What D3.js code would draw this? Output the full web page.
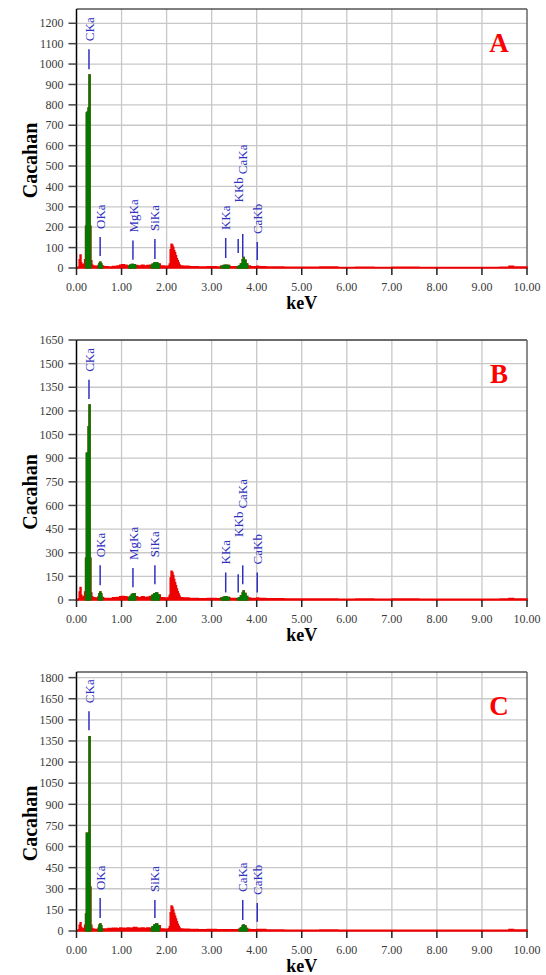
<!DOCTYPE html>
<html>
<head>
<meta charset="utf-8">
<script src="https://cdn.jsdelivr.net/npm/d3@7"></script>
<style>
  html, body { margin: 0; padding: 0; background: #fff; }
  svg { display: block; }
</style>
</head>
<body>
<script>
// EDS spectra, three samples (A, B, C).

// energy axis ticks (keV)
let kevTicks = [0, 1, 2, 3, 4, 5, 6, 7, 8, 9, 10];

// spectrum A: [keV, counts]
let specA = [
    [0.00, 0], [0.04, 5], [0.06, 40], [0.08, 64], [0.10, 25], [0.12, 15], [0.14, 12], [0.16, 18],
    [0.18, 40], [0.20, 205], [0.22, 760], [0.24, 765], [0.26, 784], [0.28, 946], [0.30, 205],
    [0.32, 35], [0.34, 15], [0.36, 10], [0.40, 8], [0.44, 8], [0.48, 12], [0.50, 22], [0.52, 28],
    [0.54, 20], [0.56, 10], [0.60, 6], [0.70, 5], [0.80, 7], [0.90, 10], [0.96, 14], [1.00, 16],
    [1.06, 14], [1.12, 10], [1.18, 14], [1.22, 17], [1.26, 16], [1.30, 12], [1.36, 10], [1.44, 14],
    [1.50, 10], [1.56, 12], [1.62, 14], [1.68, 18], [1.72, 24], [1.76, 26], [1.80, 20], [1.86, 10],
    [1.94, 8], [2.00, 8], [2.04, 10], [2.06, 20], [2.08, 90], [2.10, 116], [2.12, 112], [2.14, 100],
    [2.16, 85], [2.18, 75], [2.20, 60], [2.22, 45], [2.24, 35], [2.26, 25], [2.28, 15], [2.30, 10],
    [2.36, 8], [2.50, 6], [2.70, 5], [2.90, 6], [3.10, 5], [3.20, 8], [3.26, 12], [3.30, 14],
    [3.34, 12], [3.40, 6], [3.50, 6], [3.60, 10], [3.64, 20], [3.68, 40], [3.70, 52], [3.72, 38],
    [3.76, 20], [3.80, 10], [3.86, 6], [4.00, 8], [4.04, 6], [4.20, 5], [4.60, 4], [5.00, 4],
    [5.40, 5], [5.80, 3], [6.20, 4], [6.60, 3], [7.00, 4], [7.60, 3], [8.20, 3], [8.80, 3],
    [9.40, 4], [9.60, 8], [9.70, 5], [10.00, 3]
];
let specB = [
    [0.00, 0], [0.04, 8], [0.06, 50], [0.08, 80], [0.10, 30], [0.12, 18], [0.14, 15], [0.16, 22],
    [0.18, 50], [0.20, 265], [0.22, 932], [0.24, 932], [0.26, 1100], [0.28, 1237], [0.30, 265],
    [0.32, 45], [0.34, 20], [0.36, 14], [0.40, 12], [0.44, 12], [0.48, 20], [0.50, 40], [0.52, 51],
    [0.54, 38], [0.56, 16], [0.60, 10], [0.70, 10], [0.80, 14], [0.90, 16], [0.96, 20], [1.00, 22],
    [1.06, 20], [1.12, 16], [1.18, 22], [1.22, 35], [1.26, 40], [1.30, 20], [1.36, 15], [1.44, 20],
    [1.50, 16], [1.56, 18], [1.62, 22], [1.68, 30], [1.72, 40], [1.76, 45], [1.80, 32], [1.86, 15],
    [1.94, 12], [2.00, 12], [2.04, 16], [2.06, 30], [2.08, 140], [2.10, 182], [2.12, 175], [2.14, 155],
    [2.16, 130], [2.18, 110], [2.20, 90], [2.22, 70], [2.24, 52], [2.26, 38], [2.28, 24], [2.30, 15],
    [2.36, 12], [2.50, 10], [2.70, 8], [2.90, 9], [3.10, 8], [3.20, 12], [3.26, 18], [3.30, 20],
    [3.34, 16], [3.40, 9], [3.50, 9], [3.60, 14], [3.64, 25], [3.68, 45], [3.70, 57], [3.72, 42],
    [3.76, 22], [3.80, 12], [3.86, 9], [4.00, 12], [4.04, 9], [4.20, 8], [4.60, 6], [5.00, 6],
    [5.40, 7], [5.80, 5], [6.20, 6], [6.60, 5], [7.00, 6], [7.60, 5], [8.20, 5], [8.80, 5],
    [9.40, 6], [9.60, 10], [9.70, 7], [10.00, 5]
];
let specC = [
    [0.00, 0], [0.04, 8], [0.06, 40], [0.08, 59], [0.10, 25], [0.12, 15], [0.14, 12], [0.16, 18],
    [0.18, 40], [0.20, 120], [0.22, 695], [0.24, 695], [0.26, 695], [0.28, 1380], [0.30, 312],
    [0.32, 40], [0.34, 18], [0.36, 12], [0.40, 10], [0.44, 10], [0.48, 20], [0.50, 40], [0.52, 50],
    [0.54, 35], [0.56, 15], [0.60, 14], [0.70, 18], [0.80, 20], [0.90, 16], [0.96, 22], [1.00, 20],
    [1.06, 18], [1.12, 22], [1.18, 20], [1.26, 24], [1.34, 20], [1.44, 22], [1.50, 18], [1.56, 22],
    [1.62, 20], [1.68, 30], [1.72, 42], [1.76, 50], [1.80, 38], [1.86, 15], [1.94, 12], [2.00, 12],
    [2.04, 16], [2.06, 30], [2.08, 130], [2.10, 177], [2.12, 168], [2.14, 150], [2.16, 125],
    [2.18, 105], [2.20, 85], [2.22, 65], [2.24, 48], [2.26, 34], [2.28, 22], [2.30, 14], [2.36, 12],
    [2.50, 10], [2.70, 8], [2.90, 10], [3.10, 8], [3.30, 9], [3.50, 8], [3.60, 12], [3.64, 22],
    [3.68, 38], [3.70, 43], [3.72, 35], [3.76, 18], [3.80, 10], [3.86, 8], [4.00, 10], [4.20, 7],
    [4.60, 6], [5.00, 6], [5.40, 7], [5.80, 5], [6.20, 6], [6.60, 5], [7.00, 6], [7.60, 5],
    [8.20, 5], [8.80, 5], [9.40, 6], [9.60, 10], [9.70, 7], [10.00, 5]
];

// regions of interest drawn in green, [from, to] keV
let roiA = [[0.19, 0.33], [0.47, 0.59], [1.15, 1.33], [1.65, 1.85], [3.20, 3.40], [3.56, 3.82]];
let roiB = [[0.19, 0.33], [0.47, 0.59], [1.15, 1.33], [1.65, 1.85], [3.20, 3.40], [3.56, 3.82]];
let roiC = [[0.19, 0.33], [0.47, 0.59], [1.65, 1.85], [3.60, 3.80]];

// peak markers: name, energy (keV), marker from / to (counts)
let peaksA = [
    ['CKa', 0.277, 975, 1073], ['OKa', 0.525, 59, 152], ['MgKa', 1.253, 40, 135],
    ['SiKa', 1.740, 44, 142], ['KKa', 3.312, 49, 147], ['KKb', 3.589, 74, 142],
    ['CaKa', 3.690, 54, 167], ['CaKb', 4.012, 39, 127]
];
let peaksB = [
    ['CKa', 0.277, 1276, 1397], ['OKa', 0.525, 93, 220], ['MgKa', 1.253, 81, 203],
    ['SiKa', 1.740, 100, 220], ['KKa', 3.312, 48, 175], ['KKb', 3.589, 48, 163],
    ['CaKa', 3.690, 100, 220], ['CaKb', 4.012, 48, 175]
];
let peaksC = [
    ['CKa', 0.277, 1427, 1562], ['OKa', 0.525, 92, 234], ['SiKa', 1.740, 92, 220],
    ['CaKa', 3.690, 78, 220], ['CaKb', 4.012, 66, 199]
];

// count axis ticks
let ticksA = d3.range(0, 1201, 100);
let ticksB = d3.range(0, 1651, 150);
let ticksC = d3.range(0, 1801, 150);

let width = 546, height = 975;
let left = 76.5, right = 527;
let serif = '"Liberation Serif", "Times New Roman", serif';

let svg = d3.select('body').append('svg')
    .attr('width', width)
    .attr('height', height);

drawPanel({ letter: 'A', spec: specA, roi: roiA, peaks: peaksA, ticks: ticksA, yMax: 1270, top: 9, bottom: 268 });
drawPanel({ letter: 'B', spec: specB, roi: roiB, peaks: peaksB, ticks: ticksB, yMax: 1650, top: 340, bottom: 600 });
drawPanel({ letter: 'C', spec: specC, roi: roiC, peaks: peaksC, ticks: ticksC, yMax: 1840, top: 672, bottom: 931 });

function drawPanel(p) {
    let x = d3.scaleLinear().domain([0, 10]).range([left, right]);
    let y = d3.scaleLinear().domain([0, p.yMax]).range([p.bottom, p.top]);
    let g = svg.append('g');

    // grid
    g.selectAll('.hgrid')
        .data(p.ticks)
        .join('line')
            .attr('x1', left).attr('x2', right)
            .attr('y1', (d) => y(d)).attr('y2', (d) => y(d))
            .style('stroke', '#c8c8c8')
            .style('stroke-width', 1.3);
    g.selectAll('.vgrid')
        .data(kevTicks.slice(1, -1))
        .join('line')
            .attr('x1', (d) => x(d)).attr('x2', (d) => x(d))
            .attr('y1', p.top).attr('y2', p.bottom)
            .style('stroke', '#c8c8c8')
            .style('stroke-width', 1.3);

    // frame: black top, grey right
    g.append('line')
        .attr('x1', left).attr('x2', right).attr('y1', p.top).attr('y2', p.top)
        .style('stroke', '#000').style('stroke-width', 1.2);
    g.append('line')
        .attr('x1', right).attr('x2', right).attr('y1', p.top).attr('y2', p.bottom)
        .style('stroke', '#666').style('stroke-width', 1.5);

    // spectrum, red everywhere, then green over the regions of interest
    let area = d3.area()
        .x((d) => x(d[0]))
        .y0(y(0))
        .y1((d) => y(d[1]))
        .curve(d3.curveStepAfter);
    g.append('path')
        .datum(p.spec)
        .attr('d', area)
        .style('fill', '#ee0000')
        .style('stroke', '#ee0000')
        .style('stroke-width', 1.5);

    p.roi.forEach(function(r, i) {
        let clipId = 'clip' + p.letter + i;
        g.append('clipPath').attr('id', clipId)
            .append('rect')
            .attr('x', x(r[0])).attr('width', x(r[1]) - x(r[0]))
            .attr('y', p.top).attr('height', p.bottom - p.top + 2);
        g.append('path')
            .datum(p.spec)
            .attr('d', area)
            .attr('clip-path', 'url(#' + clipId + ')')
            .style('fill', '#007a00')
            .style('stroke', '#007a00')
            .style('stroke-width', 1.5);
    });

    // left axis
    g.append('line')
        .attr('x1', left).attr('x2', left).attr('y1', p.top).attr('y2', p.bottom + 1)
        .style('stroke', '#000').style('stroke-width', 1.5);
    g.selectAll('.ytick')
        .data(p.ticks)
        .join('line')
            .attr('x1', left - 8).attr('x2', left)
            .attr('y1', (d) => y(d)).attr('y2', (d) => y(d))
            .style('stroke', '#444').style('stroke-width', 1.5);
    g.selectAll('.ylab')
        .data(p.ticks)
        .join('text')
            .attr('x', left - 13)
            .attr('y', (d) => y(d))
            .attr('dy', '0.35em')
            .attr('text-anchor', 'end')
            .style('font-family', serif)
            .style('font-size', '12px')
            .style('fill', '#3a3a3a')
            .text((d) => d);

    // bottom axis
    g.selectAll('.xtick')
        .data(kevTicks)
        .join('line')
            .attr('x1', (d) => x(d)).attr('x2', (d) => x(d))
            .attr('y1', p.bottom).attr('y2', p.bottom + 7)
            .style('stroke', '#222').style('stroke-width', 1.5);
    g.selectAll('.xlab')
        .data(kevTicks)
        .join('text')
            .attr('x', (d) => x(d))
            .attr('y', p.bottom + 19)
            .attr('dy', '0.35em')
            .attr('text-anchor', 'middle')
            .style('font-family', serif)
            .style('font-size', '12px')
            .style('fill', '#3a3a3a')
            .text((d) => d3.format('.2f')(d));

    g.append('text')
        .attr('x', (left + right) / 2)
        .attr('y', p.bottom + 35)
        .attr('dy', '0.35em')
        .attr('text-anchor', 'middle')
        .style('font-family', serif)
        .style('font-weight', 'bold')
        .style('font-size', '18px')
        .text('keV');

    g.append('text')
        .attr('transform', 'translate(30,' + ((p.top + p.bottom) / 2 + 22) + ') rotate(-90)')
        .attr('dy', '0.35em')
        .attr('text-anchor', 'middle')
        .style('font-family', serif)
        .style('font-weight', 'bold')
        .style('font-size', '20px')
        .text('Cacahan');

    // panel letter
    g.append('text')
        .attr('x', 499)
        .attr('y', p.top + 34)
        .attr('dy', '0.35em')
        .attr('text-anchor', 'middle')
        .style('font-family', serif)
        .style('font-weight', 'bold')
        .style('font-size', '27px')
        .style('fill', '#ff0000')
        .text(p.letter);

    // peak markers; a label that would hit a neighbour's label is pushed up above it
    let placed = [];
    p.peaks.forEach(function(pk) {
        let px = x(pk[1]);
        g.append('line')
            .attr('x1', px).attr('x2', px)
            .attr('y1', y(pk[2])).attr('y2', y(pk[3]))
            .style('stroke', '#3030c0').style('stroke-width', 1.5);
        let t = g.append('text')
            .attr('dy', '0.35em')
            .style('font-family', serif)
            .style('font-size', '13px')
            .style('fill', '#3030c0')
            .text(pk[0]);
        let len = t.node().getComputedTextLength();
        let base = y(pk[3]) - 8;
        let moved = true;
        while (moved) {
            moved = false;
            placed.forEach(function(o) {
                if (Math.abs(o.x - px) < 13 && base > o.top && base - len < o.bottom) {
                    base = o.top - 3;
                    moved = true;
                }
            });
        }
        t.attr('transform', 'translate(' + px + ',' + base + ') rotate(-90)');
        placed.push({ x: px, top: base - len, bottom: base });
    });
}
</script>
</body>
</html>
